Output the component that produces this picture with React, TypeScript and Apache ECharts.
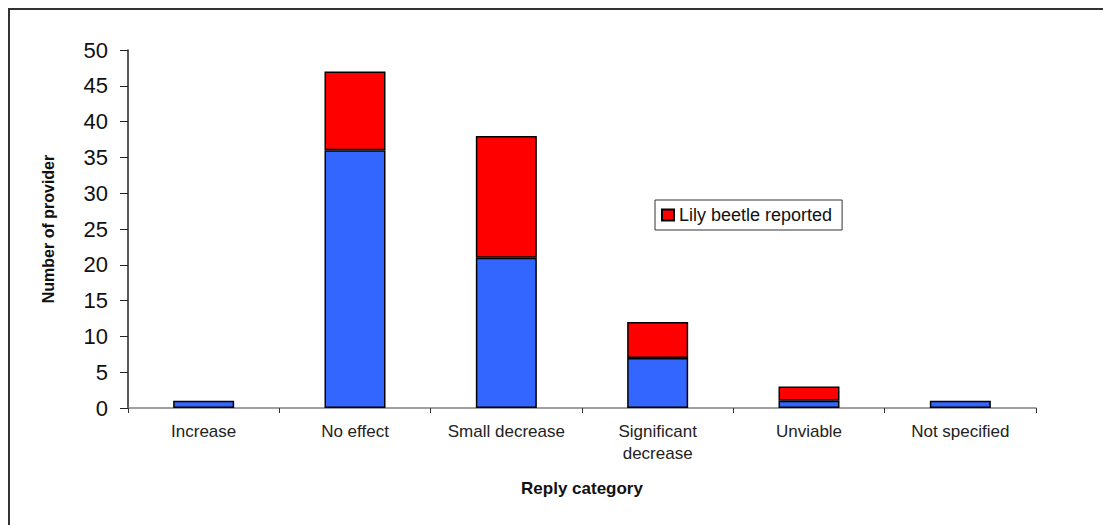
import React, { useEffect, useRef } from "react";
import * as echarts from "echarts";

const categories = ["Increase", "No effect", "Small decrease", "Significant\ndecrease", "Unviable", "Not specified"];
const otherValues = [1, 36, 21, 7, 1, 1];
const lilyBeetleValues = [0, 11, 17, 5, 2, 0];
const yTicks = { min: 0, max: 50, interval: 5 };

export default function App() {
  const ref = useRef<HTMLDivElement>(null);
  useEffect(() => {
    if (!ref.current) return;
    const chart = echarts.init(ref.current, null, { renderer: "svg" });
    const font = "'Liberation Sans', Arial, sans-serif";
    chart.setOption({
      animation: false,
      backgroundColor: "#ffffff",
      textStyle: { fontFamily: font },
      graphic: [
        {
          type: "rect",
          shape: { x: 9, y: 9, width: 1200, height: 700 },
          style: { fill: "none", stroke: "#333333", lineWidth: 2 },
          silent: true,
        },
      ],
      grid: { left: 128, right: 67, top: 50, bottom: 117, containLabel: false },
      legend: {
        data: ["Lily beetle reported"],
        left: 655,
        top: 200,
        orient: "vertical",
        borderColor: "#333333",
        borderWidth: 1,
        padding: [6, 10, 6, 6],
        itemWidth: 12,
        itemHeight: 11,
        itemGap: 4,
        icon: "rect",
        textStyle: { fontFamily: font, fontSize: 18, color: "#111" },
      },
      xAxis: {
        type: "category",
        data: categories,
        name: "Reply category",
        nameLocation: "middle",
        nameGap: 72,
        nameTextStyle: { fontFamily: font, fontSize: 17, fontWeight: "bold", color: "#111" },
        axisLine: { lineStyle: { color: "#808080", width: 1.5 } },
        axisTick: { show: true, length: 5, lineStyle: { color: "#333" } },
        axisLabel: { fontFamily: font, fontSize: 17, color: "#222", margin: 12, lineHeight: 22, interval: 0 },
      },
      yAxis: {
        type: "value",
        min: yTicks.min,
        max: yTicks.max,
        interval: yTicks.interval,
        name: "Number of provider",
        nameLocation: "middle",
        nameGap: 72,
        nameTextStyle: { fontFamily: font, fontSize: 16, fontWeight: "bold", color: "#111" },
        axisLine: { show: true, lineStyle: { color: "#222", width: 1.5 } },
        axisTick: { show: true, length: 8, inside: false, lineStyle: { color: "#222" } },
        axisLabel: { fontFamily: font, fontSize: 22, color: "#111", margin: 20 },
        splitLine: { show: false },
      },
      series: [
        {
          name: "Other",
          type: "bar",
          stack: "total",
          data: otherValues,
          barWidth: 61,
          itemStyle: { color: "#3366FF", borderColor: "#000", borderWidth: 1.5 },
        },
        {
          name: "Lily beetle reported",
          type: "bar",
          stack: "total",
          data: lilyBeetleValues.map((v) => (v === 0 ? null : v)),
          barWidth: 61,
          itemStyle: { color: "#FF0000", borderColor: "#000", borderWidth: 1.5 },
        },
      ],
    });
    return () => chart.dispose();
  }, []);
  return (
    <div
      ref={ref}
      style={{ position: "fixed", left: 0, top: 0, width: 1103, height: 525, background: "#fff" }}
    />
  );
}
